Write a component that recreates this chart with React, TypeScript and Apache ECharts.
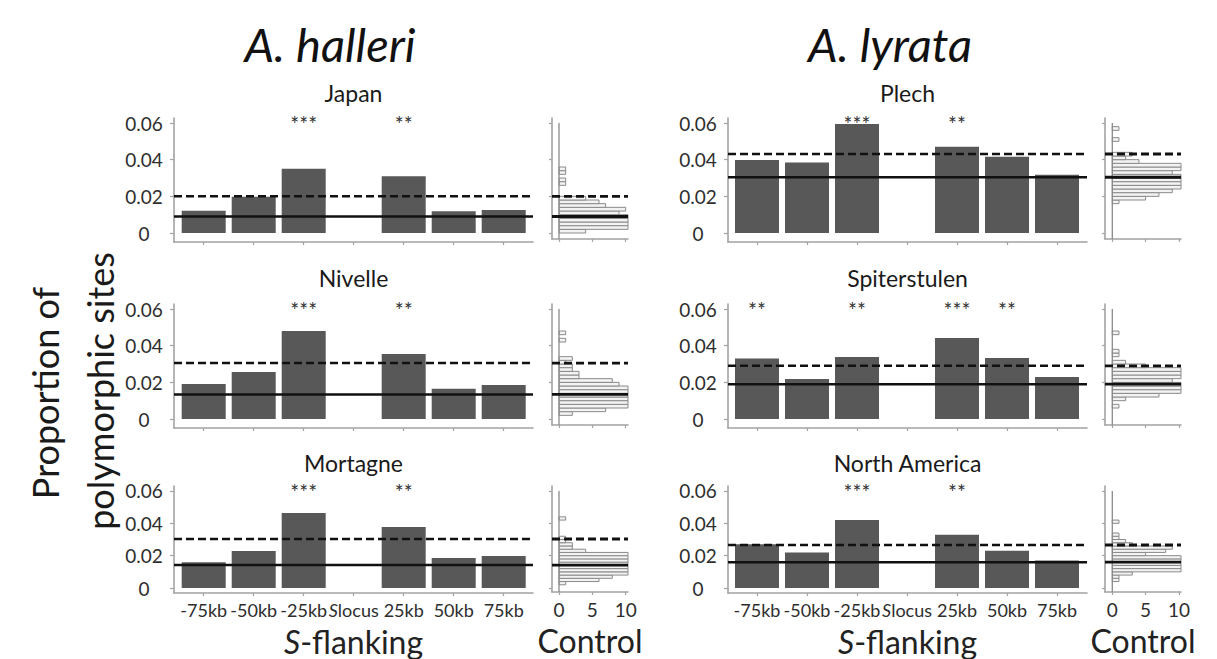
import React, { useEffect, useRef } from 'react';
import * as echarts from 'echarts';

// ---------------- DATA ----------------
const categories = ['-75kb', '-50kb', '-25kb', 'Slocus', '25kb', '50kb', '75kb'];
const yTickValues = [0, 0.02, 0.04, 0.06];
const histTickValues = [0, 5, 10];
const binWidth = 0.002; // histogram bin width (proportion of polymorphic sites)

// bar values per category (null = S locus itself, no bar)
const japanBars = [0.0122, 0.0198, 0.0351, null, 0.031, 0.0118, 0.0125];
const nivelleBars = [0.0191, 0.0256, 0.048, null, 0.0355, 0.0165, 0.0185];
const mortagneBars = [0.016, 0.0229, 0.0464, null, 0.0377, 0.0186, 0.0198];
const plechBars = [0.0398, 0.0384, 0.0595, null, 0.0471, 0.0416, 0.0318];
const spiterstulenBars = [0.033, 0.0218, 0.0338, null, 0.0442, 0.0333, 0.0229];
const northAmericaBars = [0.027, 0.022, 0.042, null, 0.033, 0.023, 0.017];

// significance stars per category
const japanStars = ['', '', '***', '', '**', '', ''];
const nivelleStars = ['', '', '***', '', '**', '', ''];
const mortagneStars = ['', '', '***', '', '**', '', ''];
const plechStars = ['', '', '***', '', '**', '', ''];
const spiterstulenStars = ['**', '', '**', '', '***', '**', ''];
const northAmericaStars = ['', '', '***', '', '**', '', ''];

// [dashed threshold, solid mean]
const japanLines = [0.02, 0.009];
const nivelleLines = [0.0305, 0.0134];
const mortagneLines = [0.0303, 0.0142];
const plechLines = [0.0431, 0.0304];
const spiterstulenLines = [0.029, 0.019];
const northAmericaLines = [0.0266, 0.016];

// control histograms: counts per bin of width binWidth starting at 0
const japanHist = [4, 13, 13, 12, 12, 9, 10, 7, 6, 4, 0, 0, 0, 1, 1, 0, 1, 1];
const nivelleHist = [0, 2, 7, 12, 13, 13, 13, 12, 13, 9, 8, 3, 3, 2, 2, 1, 2, 0, 0, 0, 0, 1, 0, 1];
const mortagneHist = [0, 1, 6, 8, 12, 13, 12, 13, 13, 12, 11, 4, 2, 2, 1, 1, 0, 0, 0, 0, 0, 1];
const plechHist = [0, 0, 0, 0, 0, 0, 0, 0, 1, 5, 7, 9, 12, 13, 13, 12, 9, 11, 12, 4, 2, 3, 0, 0, 0, 1, 0, 0, 1];
const spiterstulenHist = [0, 0, 0, 1, 0, 2, 7, 12, 13, 13, 9, 13, 12, 11, 5, 2, 0, 1, 1, 0, 0, 0, 0, 1];
const northAmericaHist = [0, 0, 1, 1, 3, 12, 13, 13, 13, 11, 5, 8, 9, 3, 2, 1, 1, 0, 0, 0, 1];

const panels = [
  { name: 'Japan', bars: japanBars, stars: japanStars, lines: japanLines, hist: japanHist, col: 0, row: 0 },
  { name: 'Nivelle', bars: nivelleBars, stars: nivelleStars, lines: nivelleLines, hist: nivelleHist, col: 0, row: 1 },
  { name: 'Mortagne', bars: mortagneBars, stars: mortagneStars, lines: mortagneLines, hist: mortagneHist, col: 0, row: 2 },
  { name: 'Plech', bars: plechBars, stars: plechStars, lines: plechLines, hist: plechHist, col: 1, row: 0 },
  { name: 'Spiterstulen', bars: spiterstulenBars, stars: spiterstulenStars, lines: spiterstulenLines, hist: spiterstulenHist, col: 1, row: 1 },
  { name: 'North America', bars: northAmericaBars, stars: northAmericaStars, lines: northAmericaLines, hist: northAmericaHist, col: 1, row: 2 },
];

// ---------------- LAYOUT ----------------
const FONT = 'Lato';
const COLS = [
  { barLeft: 174, barRight: 533, firstCenter: 203.7, histLeft: 552, histZero: 559, histRight: 628, titleX: 330, species: 'A. halleri' },
  { barLeft: 728, barRight: 1087, firstCenter: 757, histLeft: 1105, histZero: 1112.3, histRight: 1181, titleX: 890, species: 'A. lyrata' },
];
const ROWS = [
  { top: 118, bottom: 242, y0: 233, k: 1833.3, histBottom: 239, titleY: 93 },
  { top: 304, bottom: 428, y0: 419, k: 1833.3, histBottom: 425, titleY: 278 },
  { top: 486, bottom: 593, y0: 588, k: 1617, histBottom: 592, titleY: 463 },
];
const SLOT = 50;
const HIST_UNIT = 6.667;
const AXIS_COLOR = '#a3a3a3';
const BAR_COLOR = '#585858';
const LABEL_COLOR = '#2e2e2e';
const STAR_COLOR = '#333333';

function buildOption() {
  const grid: any[] = [];
  const xAxis: any[] = [];
  const yAxis: any[] = [];
  const series: any[] = [];
  const graphic: any[] = [];

  const axisLine = { show: true, onZero: false, lineStyle: { color: AXIS_COLOR, width: 1.6 } };
  const tickStyle = { color: AXIS_COLOR, width: 1.2 };

  panels.forEach((p) => {
    const c = COLS[p.col];
    const r = ROWS[p.row];
    const isBottom = p.row === 2;
    const ymin = -(r.bottom - r.y0) / r.k;
    const ymax = (r.y0 - r.top) / r.k;

    // ---- bar panel ----
    const gi = grid.length;
    grid.push({ left: c.barLeft, top: r.top, width: c.barRight - c.barLeft, height: r.bottom - r.top });
    const xmin = (c.barLeft - c.firstCenter) / SLOT;
    const xmax = (c.barRight - c.firstCenter) / SLOT;
    const catIdx = categories.map((_, i) => i);
    xAxis.push({
      type: 'value', gridIndex: gi, min: xmin, max: xmax,
      axisLine, splitLine: { show: false },
      axisTick: { show: true, customValues: catIdx, length: 3, lineStyle: tickStyle },
      axisLabel: {
        show: isBottom, customValues: catIdx, margin: 8,
        fontSize: 18, fontFamily: FONT, color: LABEL_COLOR,
        formatter: (v: number) => {
          const s = categories[Math.round(v)] || '';
          return s === 'Slocus' ? '{it|S}locus' : s;
        },
        rich: { it: { fontStyle: 'italic', fontSize: 18, fontFamily: FONT, color: LABEL_COLOR } },
      },
      name: isBottom ? '{it|S}-flanking' : '',
      nameLocation: 'middle', nameGap: 32,
      nameTextStyle: {
        fontSize: 32, fontFamily: FONT, color: '#222', lineHeight: 32,
        rich: { it: { fontStyle: 'italic', fontSize: 32, fontFamily: FONT, color: '#222', lineHeight: 32 } },
      },
    });
    yAxis.push({
      type: 'value', gridIndex: gi, min: ymin, max: ymax,
      axisLine, splitLine: { show: false },
      axisTick: { show: true, customValues: yTickValues, length: 4, lineStyle: tickStyle },
      axisLabel: {
        show: true, customValues: yTickValues, align: 'center', margin: 30,
        fontSize: 19, fontFamily: FONT, color: LABEL_COLOR,
        formatter: (v: number) => (Math.abs(v) < 1e-9 ? '0' : v.toFixed(2)),
      },
    });
    series.push({
      type: 'bar', xAxisIndex: gi, yAxisIndex: gi, barWidth: 44, silent: true,
      itemStyle: { color: BAR_COLOR },
      data: p.bars.map((v, i) => (v == null ? null : [i, v])).filter((d) => d !== null),
      z: 2,
    });
    const lineTypes: any[] = [[8, 4], 'solid'];
    p.lines.forEach((v, li) => {
      series.push({
        type: 'line', xAxisIndex: gi, yAxisIndex: gi, symbol: 'none', silent: true, z: 4,
        lineStyle: { color: '#111', width: 2.5, type: lineTypes[li] },
        data: [[xmin, v], [xmax, v]],
      });
    });
    // significance stars, placed at each category just under the top of the axis
    const vStar = (r.y0 - (r.top + 5)) / r.k;
    const starItems = p.stars.map((s, i) => ({ s, i })).filter((d) => d.s);
    series.push({
      type: 'custom', xAxisIndex: gi, yAxisIndex: gi, silent: true, z: 5,
      encode: { x: 0, y: 1 },
      itemStyle: { color: STAR_COLOR },
      data: starItems.map((d) => [d.i, vStar]),
      renderItem: (params: any, api: any) => {
        const pt = api.coord([api.value(0), api.value(1)]);
        return {
          type: 'text', x: pt[0], y: pt[1],
          style: {
            text: starItems[params.dataIndex].s, fill: STAR_COLOR, fontSize: 21, fontFamily: FONT,
            align: 'center', verticalAlign: 'middle',
          },
        };
      },
    });

    // ---- control histogram ----
    const hi = grid.length;
    grid.push({ left: c.histLeft, top: r.top, width: c.histRight - c.histLeft, height: r.histBottom - r.top });
    const hxmin = (c.histLeft - c.histZero) / HIST_UNIT;
    const hxmax = (c.histRight - c.histZero) / HIST_UNIT;
    const hymin = -(r.histBottom - r.y0) / r.k;
    xAxis.push({
      type: 'value', gridIndex: hi, min: hxmin, max: hxmax,
      axisLine, splitLine: { show: false },
      axisTick: { show: true, customValues: histTickValues, length: 3, lineStyle: tickStyle },
      axisLabel: { show: isBottom, customValues: histTickValues, margin: 8, fontSize: 19, fontFamily: FONT, color: LABEL_COLOR },
      name: isBottom ? 'Control' : '',
      nameLocation: 'middle', nameGap: 32,
      nameTextStyle: { fontSize: 32, fontFamily: FONT, color: '#222', lineHeight: 32 },
    });
    yAxis.push({
      type: 'value', gridIndex: hi, min: hymin, max: ymax,
      axisLine, splitLine: { show: false },
      axisTick: { show: true, customValues: yTickValues, length: 3, lineStyle: tickStyle },
      axisLabel: { show: false },
    });
    series.push({
      type: 'custom', xAxisIndex: hi, yAxisIndex: hi, silent: true, z: 2,
      encode: { x: 1, y: 0 },
      data: p.hist.map((cnt, i) => [i * binWidth, cnt]).filter((d) => d[1] > 0),
      renderItem: (params: any, api: any) => {
        const lo = api.value(0);
        const cnt = api.value(1);
        const p0 = api.coord([0, lo + binWidth]);
        const p1 = api.coord([cnt, lo]);
        const cs = params.coordSys;
        const shape = echarts.graphic.clipRectByRect(
          { x: p0[0], y: p0[1], width: p1[0] - p0[0], height: p1[1] - p0[1] },
          { x: cs.x, y: cs.y, width: cs.width, height: cs.height }
        );
        if (!shape) return null;
        return { type: 'rect', shape, style: { fill: '#f3f3f3', stroke: '#8a8a8a', lineWidth: 1 } };
      },
    });
    series.push({
      type: 'line', xAxisIndex: hi, yAxisIndex: hi, symbol: 'none', silent: true, z: 3,
      lineStyle: { color: '#8a8a8a', width: 1.3 },
      data: [[0, hymin], [0, 0.06]],
    });
    p.lines.forEach((v, li) => {
      series.push({
        type: 'line', xAxisIndex: hi, yAxisIndex: hi, symbol: 'none', silent: true, z: 4,
        lineStyle: { color: '#111', width: 2.8, type: lineTypes[li] },
        data: [[hxmin, v], [hxmax, v]],
      });
    });

    // panel title
    graphic.push({
      type: 'text', x: (c.barLeft + c.barRight) / 2, y: r.titleY, silent: true,
      style: { text: p.name, fontSize: 23, fontFamily: FONT, fill: '#1a1a1a', align: 'center', verticalAlign: 'middle' },
    });
  });

  COLS.forEach((c) => {
    graphic.push({
      type: 'text', x: c.titleX, y: 44, silent: true,
      style: { text: c.species, fontSize: 47, fontStyle: 'italic', fontFamily: FONT, fill: '#111', align: 'center', verticalAlign: 'middle' },
    });
  });
  graphic.push({
    type: 'text', x: 45, y: 393, rotation: Math.PI / 2, silent: true,
    style: { text: 'Proportion of', fontSize: 36, fontFamily: FONT, fill: '#1a1a1a', align: 'center', verticalAlign: 'middle' },
  });
  graphic.push({
    type: 'text', x: 100, y: 391, rotation: Math.PI / 2, silent: true,
    style: { text: 'polymorphic sites', fontSize: 36, fontFamily: FONT, fill: '#1a1a1a', align: 'center', verticalAlign: 'middle' },
  });

  return {
    animation: false,
    backgroundColor: '#ffffff',
    textStyle: { fontFamily: FONT },
    grid, xAxis, yAxis, series, graphic,
  };
}

export default function App() {
  const ref = useRef<HTMLDivElement>(null);
  useEffect(() => {
    if (!ref.current) return;
    const chart = echarts.init(ref.current, null, { renderer: 'svg' });
    chart.setOption(buildOption() as any);
    return () => chart.dispose();
  }, []);
  return (
    <div
      ref={ref}
      style={{ position: 'fixed', left: 0, top: 0, width: 1217, height: 659, background: '#fff' }}
    />
  );
}
